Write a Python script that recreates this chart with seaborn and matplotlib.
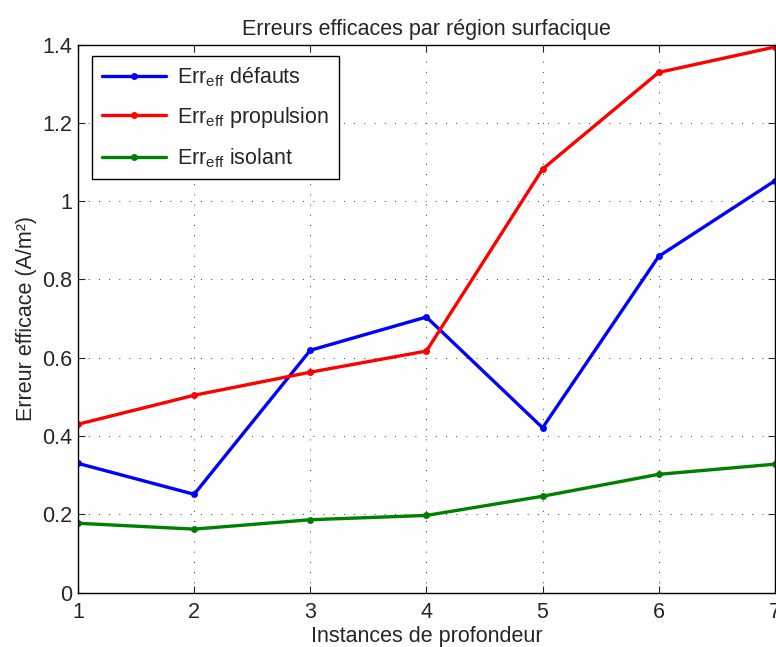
import numpy as np
import pandas as pd
import seaborn as sns
import matplotlib.pyplot as plt

# data
instances = [1, 2, 3, 4, 5, 6, 7]
err_defauts = [0.330, 0.251, 0.619, 0.704, 0.421, 0.859, 1.052]
err_propulsion = [0.430, 0.504, 0.563, 0.617, 1.082, 1.329, 1.394]
err_isolant = [0.177, 0.162, 0.186, 0.197, 0.246, 0.302, 0.328]
labels = [r'Err$_{\mathrm{eff}}$ défauts',
          r'Err$_{\mathrm{eff}}$ propulsion',
          r'Err$_{\mathrm{eff}}$ isolant']
colors = ['#0000ff', '#ff0000', '#008000']

df = pd.DataFrame({
    'x': instances * 3,
    'y': err_defauts + err_propulsion + err_isolant,
    'serie': [labels[0]] * 7 + [labels[1]] * 7 + [labels[2]] * 7,
})

sns.set_style('ticks')
plt.rcParams['font.family'] = ['Liberation Sans', 'DejaVu Sans']
plt.rcParams['mathtext.fontset'] = 'custom'
plt.rcParams['mathtext.rm'] = 'Liberation Sans'
plt.rcParams['mathtext.it'] = 'Liberation Sans'

fs = 15.5
fig = plt.figure(figsize=(7.76, 6.47), dpi=100)
ax = fig.add_axes([0.1005, 0.0842, 0.898, 0.8468])

sns.lineplot(data=df, x='x', y='y', hue='serie', palette=colors, ax=ax,
             linewidth=2.4, marker='o', markersize=5, markeredgewidth=0)

ax.set_xlim(1, 7)
ax.set_ylim(0, 1.4)
ax.set_xticks(instances)
ax.set_yticks(np.arange(0, 1.41, 0.2))
ax.set_yticklabels(['0', '0.2', '0.4', '0.6', '0.8', '1', '1.2', '1.4'])
ax.grid(True, color='#333333', linestyle=(0, (1, 9.5)), linewidth=0.7)
ax.tick_params(direction='in', top=True, right=True, labelsize=fs, length=5, pad=4)
ax.tick_params(axis='x', pad=7)
for s in ax.spines.values():
    s.set_linewidth(1.0)
    s.set_color('black')

ax.set_title('Erreurs efficaces par région surfacique', fontsize=fs, pad=7)
ax.set_xlabel('Instances de profondeur', fontsize=fs, labelpad=2)
ax.set_ylabel('Erreur efficace (A/m²)', fontsize=fs, labelpad=4)

leg = ax.legend(loc='upper left', bbox_to_anchor=(0.02, 0.98), fontsize=fs,
                handlelength=3.0, fancybox=False, edgecolor='black',
                framealpha=1, borderpad=0.45, labelspacing=0.75,
                handletextpad=0.5, borderaxespad=0)
leg.get_frame().set_linewidth(1.0)

fig.savefig('out.png', dpi=100)
